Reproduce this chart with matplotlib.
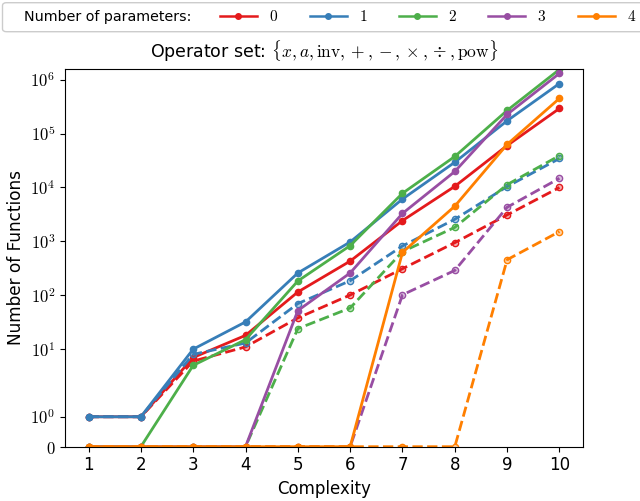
import numpy as np
import matplotlib
matplotlib.use('Agg')
import matplotlib.pyplot as plt
from matplotlib.lines import Line2D
from matplotlib.patches import FancyBboxPatch
from matplotlib.colors import to_rgba

plt.rcParams['font.family'] = ['DejaVu Sans']
plt.rcParams['mathtext.fontset'] = 'cm'

# Данные
complexity = [1, 2, 3, 4, 5, 6, 7, 8, 9, 10]
n_params = ['0', '1', '2', '3', '4']
colors = ['#e41a1c', '#377eb8', '#4daf4a', '#984ea3', '#ff7f00']

# сплошные линии
solid_0 = [1, 1, 7, 18, 115, 430, 2430, 10500, 60000, 293000]
solid_1 = [1, 1, 10, 32, 259, 975, 6100, 29400, 173000, 850000]
solid_2 = [0, 0, 5, 15, 184, 833, 7800, 37600, 269000, 1550000]
solid_3 = [0, 0, 0, 0, 52, 259, 3300, 19800, 227000, 1310000]
solid_4 = [0, 0, 0, 0, 0, 0, 625, 4500, 63000, 450000]

# пунктирные линии
dashed_0 = [1, 1, 6, 11, 38, 101, 311, 946, 3100, 10000]
dashed_1 = [1, 1, 8, 13, 70, 186, 822, 2570, 10400, 34500]
dashed_2 = [0, 0, 0, 0, 24, 58, 645, 1820, 11300, 39000]
dashed_3 = [0, 0, 0, 0, 0, 0, 102, 289, 4300, 14800]
dashed_4 = [0, 0, 0, 0, 0, 0, 0, 0, 457, 1520]

solid = [solid_0, solid_1, solid_2, solid_3, solid_4]
dashed = [dashed_0, dashed_1, dashed_2, dashed_3, dashed_4]

fig = plt.figure(figsize=(6.4, 5.01), dpi=100)
ax = fig.add_axes([65 / 640, 1 - 446.7 / 501, 518 / 640, 378 / 501])

for i in range(5):
    c = colors[i]
    ax.plot(complexity, solid[i], '-o', color=c, lw=2, ms=4.5)
    ax.plot(complexity, dashed[i], '--o', color=c, lw=2, ms=4.5,
            mfc=to_rgba(c, 0.35), mec=c)

ax.set_yscale('symlog', linthresh=2)
ax.set_ylim(0, 1.6e6)
ax.set_xlim(0.55, 10.45)
ax.set_xticks(complexity)
ax.set_xticklabels([str(v) for v in complexity], fontsize=12)
yt = [0] + [10 ** k for k in range(7)]
ax.set_yticks(yt)
ax.set_yticklabels(['$0$'] + ['$10^{%d}$' % k for k in range(7)], fontsize=12)
ax.minorticks_off()
ax.set_xlabel('Complexity', fontsize=12)
ax.set_ylabel('Number of Functions', fontsize=12.2)
ax.set_title(r'Operator set: $\{x, a, \mathrm{inv}, +, -, \times, \div, \mathrm{pow}\}$',
             fontsize=12.5, pad=8)

# Легенда сверху
box = FancyBboxPatch((2.5 / 640, 1 - 31.7 / 501), 700 / 640, 29 / 501,
                     boxstyle='round,pad=0,rounding_size=0.006',
                     transform=fig.transFigure, facecolor='white',
                     edgecolor='0.8', lw=1)
fig.patches.append(box)
fig.text(24 / 640, 1 - 16.5 / 501, 'Number of parameters:', va='center', fontsize=10.3)
handles = [Line2D([], [], color=colors[i], lw=1.8, marker='o', ms=4) for i in range(5)]
fig.legend(handles, ['$%s$' % p for p in n_params], ncol=5, frameon=False,
           loc='center left', bbox_to_anchor=(220 / 640, 1 - 16.5 / 501),
           fontsize=11, borderpad=0, borderaxespad=0,
           handlelength=2.42, handletextpad=0.8, columnspacing=2.05)

fig.savefig('out.png', dpi=100)
